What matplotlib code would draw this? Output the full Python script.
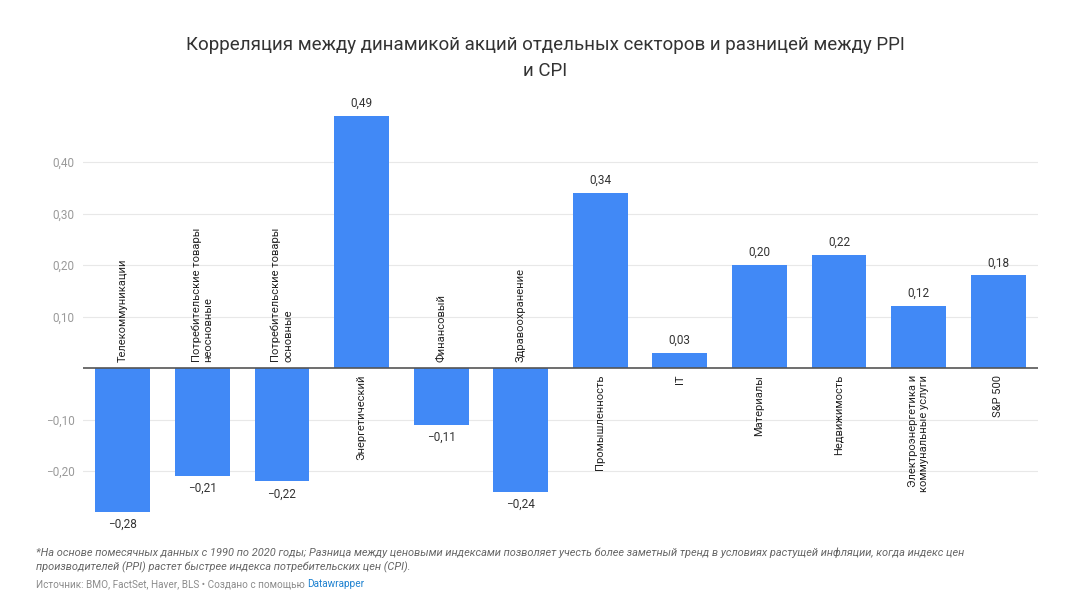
import matplotlib
matplotlib.use('Agg')
import matplotlib.pyplot as plt

plt.rcParams['font.family'] = ['Roboto', 'DejaVu Sans']

# Data
categories = [
    'Телекоммуникации',
    'Потребительские товары\nнеосновные',
    'Потребительские товары\nосновные',
    'Энергетический',
    'Финансовый',
    'Здравоохранение',
    'Промышленность',
    'IT',
    'Материалы',
    'Недвижимость',
    'Электроэнергетика и\nкоммунальные услуги',
    'S&P 500',
]
values = [-0.28, -0.21, -0.22, 0.49, -0.11, -0.24, 0.34, 0.03, 0.20, 0.22, 0.12, 0.18]
y_ticks = [-0.2, -0.1, 0.1, 0.2, 0.3, 0.4]

title = ('Корреляция между динамикой акций отдельных секторов и разницей между PPI\n'
         'и CPI')
note = ('*На основе помесячных данных с 1990 по 2020 годы; Разница между ценовыми индексами '
        'позволяет учесть более заметный тренд в условиях растущей инфляции, когда индекс цен\n'
        'производителей (PPI) растет быстрее индекса потребительских цен (CPI).')
source = 'Источник: BMO, FactSet, Haver, BLS • Создано с помощью '
credit = 'Datawrapper'

bar_color = '#4189f6'


def fmt(v, digits=2):
    s = f'{abs(v):.{digits}f}'.replace('.', ',')
    return ('\u2212' + s) if v < 0 else s


fig = plt.figure(figsize=(10.9, 6.14), dpi=100)
ax = fig.add_axes([83 / 1090, (614 - 522.5) / 614, 955 / 1090, 412 / 614])

x = list(range(len(categories)))
ax.bar(x, values, width=0.69, color=bar_color, zorder=2)
ax.set_xlim(-0.5, len(categories) - 0.5)
ax.set_ylim(-0.30, 0.50)

# grid
for t in y_ticks:
    ax.axhline(t, color='#e8e8e8', lw=0.8, zorder=0)
ax.axhline(0, color='#555555', lw=1.2, zorder=3)

ax.set_yticks(y_ticks)
ax.set_yticklabels([fmt(t) for t in y_ticks])
ax.tick_params(axis='y', length=0, pad=6, labelsize=8.5, labelcolor='#9a9a9a')
ax.set_xticks([])
for s in ax.spines.values():
    s.set_visible(False)

# value labels and category labels
for xi, v, cat in zip(x, values, categories):
    if v >= 0:
        ax.annotate(fmt(v), (xi, v), xytext=(0, 6), textcoords='offset pixels',
                    ha='center', va='bottom', fontsize=8.5, color='#333333')
        ax.annotate(cat, (xi, 0), xytext=(0, -7), textcoords='offset pixels',
                    ha='center', va='top', rotation=90, multialignment='right',
                    fontsize=8, color='#222222', linespacing=1.2)
    else:
        ax.annotate(fmt(v), (xi, v), xytext=(0, -6), textcoords='offset pixels',
                    ha='center', va='top', fontsize=8.5, color='#333333')
        ax.annotate(cat, (xi, 0), xytext=(0, 6), textcoords='offset pixels',
                    ha='center', va='bottom', rotation=90, multialignment='left',
                    fontsize=8, color='#222222', linespacing=1.2)

fig.text(0.5, 1 - 36 / 614, title, ha='center', va='top', fontsize=13.5,
         color='#333333', linespacing=1.55)

fig.text(36 / 1090, 1 - 548 / 614, note, ha='left', va='top', fontsize=7.9,
         style='italic', color='#666666', linespacing=1.3)

src = fig.text(36 / 1090, 1 - 584 / 614, source, ha='left', va='center',
               fontsize=7.2, color='#8c8c8c')
fig.canvas.draw()
bb = src.get_window_extent()
fig.text(bb.x1 / 1090, 1 - 584 / 614, credit, ha='left', va='center',
         fontsize=7.2, color='#1d81d0')

fig.savefig('out.png', dpi=100)
